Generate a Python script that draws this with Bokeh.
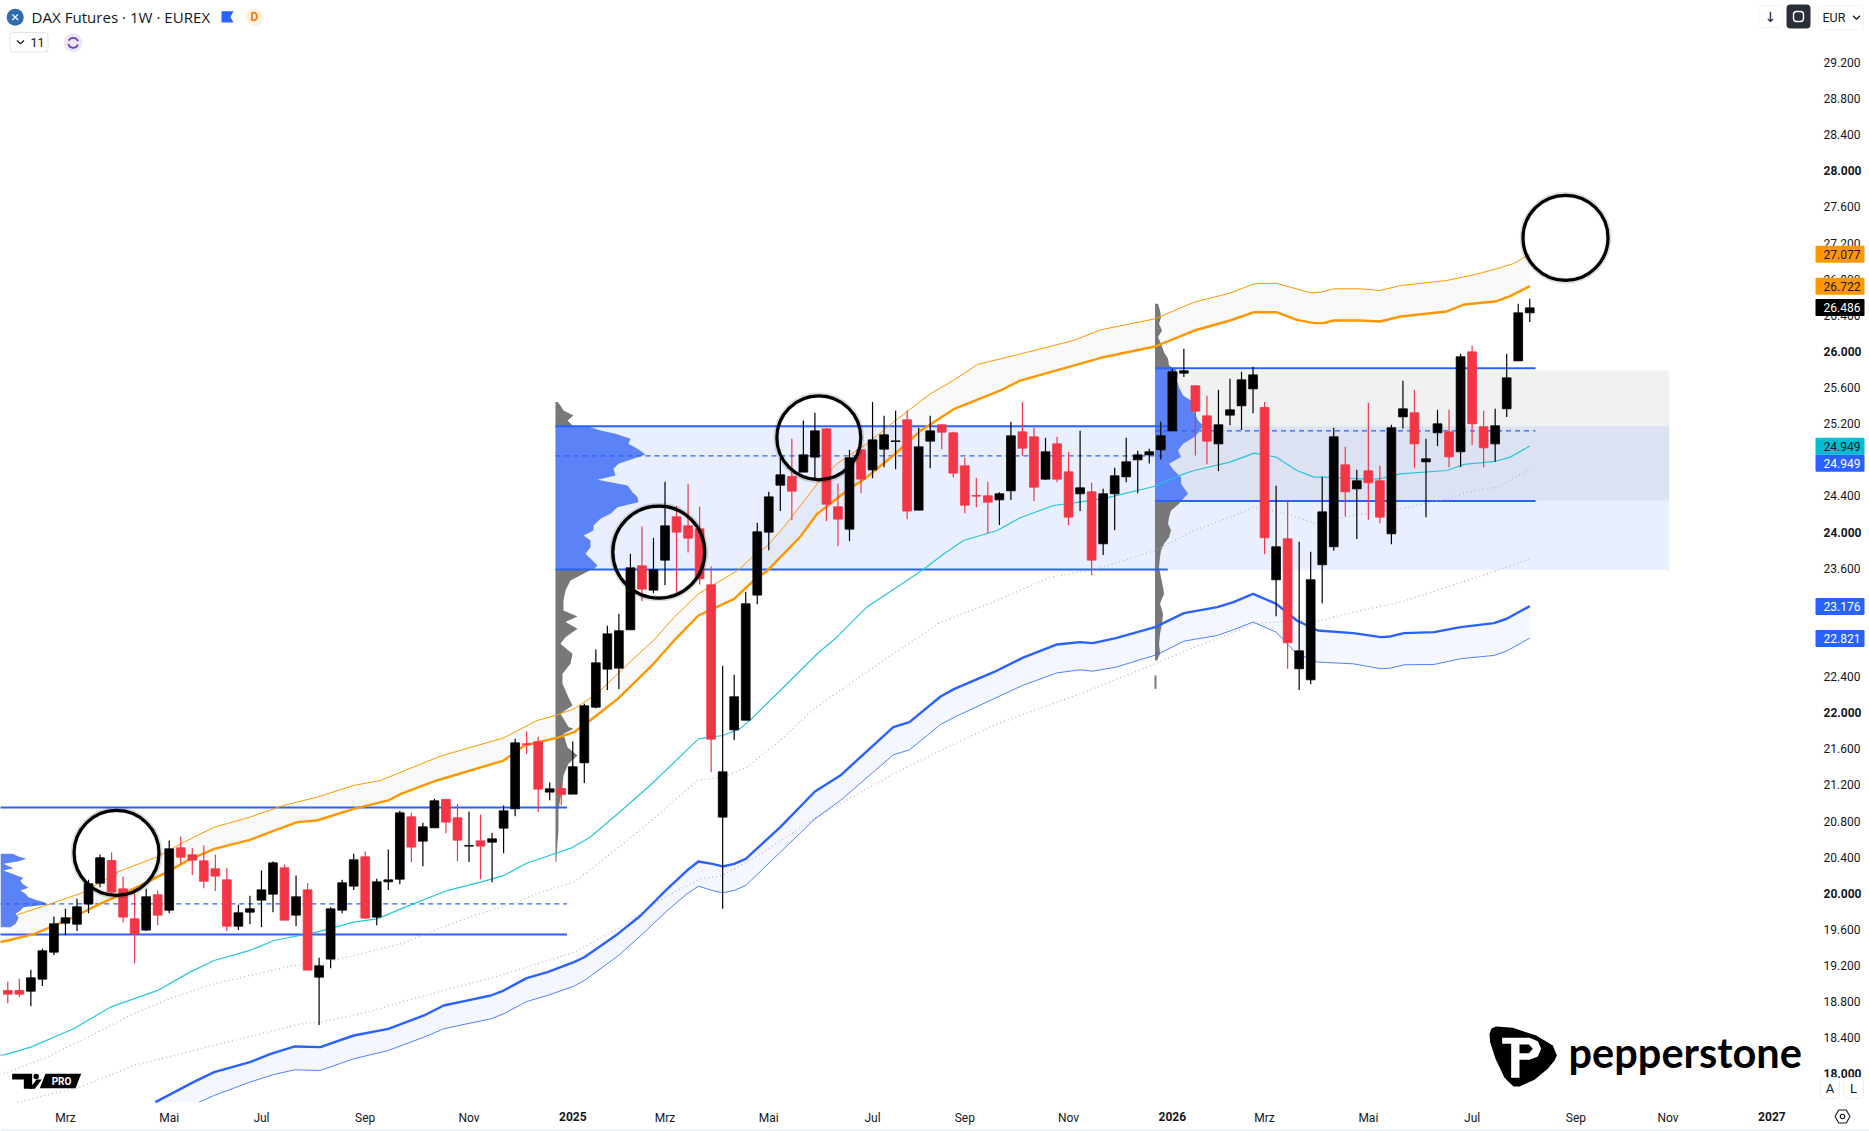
from bokeh.plotting import figure
from bokeh.models import Label, FixedTicker, Range1d, LinearAxis
from bokeh.embed import file_html
from bokeh.resources import INLINE

# ---------- weekly DAX futures candles ----------
opens = [18924,18924,18916,19049,19348,19669,19658,19880,20112,20363,
 20049,19717,19592,19983,19813,20503,20426,20359,20271,20149,
 19636,19791,19924,19990,20282,19758,20038,19071,19271,19813,
 20079,20404,19736,20127,20156,20847,20577,20725,21039,20836,
 20522,20581,20566,20721,20936,21655,21677,21120,21161,21098,
 21445,22061,22482,22493,22918,23626,23357,23689,24169,24069,
 24036,23416,20843,21810,21917,23302,23999,24519,24615,24664,
 24830,25143,24280,24032,24911,24689,24918,25003,25243,24243,
 25007,25188,25099,24734,24405,24402,24357,24457,25110,25055,
 24586,24977,24667,24424,24446,23870,24424,24612,24800,24855,
 24911,25121,25760,25620,25287,24977,25295,25398,25586,25380,
 23472,23925,22486,22364,23638,23837,24745,24479,24678,24568,
 23981,25276,25321,24778,25099,25110,24889,25996,25166,24977,
 25365,25896,26428]
closes = [18883,18883,19064,19363,19662,19728,19850,20105,20393,20013,
 19736,19551,19961,19758,20492,20400,20367,20134,20190,19636,
 19784,19828,20038,20337,19702,19961,19149,19197,19828,20116,
 20371,19725,20127,20149,20891,20511,20736,21024,20788,20588,
 20529,20522,20603,20913,21666,21648,21153,21157,21094,21401,
 22076,22552,22873,22907,23604,23368,23582,24069,23999,23933,
 23482,21707,21345,22176,23206,24003,24390,24634,24453,24855,
 25121,24309,24143,24822,24586,25021,25077,25010,24232,24944,
 25121,25106,24653,24298,24398,24331,24424,25066,24929,24497,
 24889,24586,24165,24490,23689,24424,24623,24778,24855,24889,
 25066,25775,25786,25339,25007,25188,25354,25686,25741,23937,
 23837,22774,22685,23472,24224,25055,24446,24568,24546,24165,
 25155,25365,24977,24811,25199,24833,25941,25199,24933,25177,
 25708,26428,26483]
highs = [19023,19053,19153,19385,19743,19828,19939,20149,20430,20452,
 20186,19994,20049,20031,20585,20629,20503,20529,20430,20282,
 19872,19972,20252,20352,20319,20197,20112,19285,19846,20149,
 20437,20463,20160,20485,20913,20891,20780,21046,21039,20991,
 20906,20873,20670,20972,21711,21792,21733,21227,21227,21681,
 22098,22700,22962,23095,23759,24062,23936,24557,24291,24534,
 24280,23619,22519,22419,23338,24102,24446,24822,25033,25236,
 25320,25154,24534,24911,24911,25442,25287,25343,25346,25154,
 25287,25199,25110,24822,24601,24557,24442,25221,25442,25154,
 25044,25055,24889,25121,24545,24479,24712,25044,24900,24922,
 25221,25808,26029,25623,25509,25575,25697,25775,25830,25442,
 24512,24357,23892,23782,24612,25155,24944,24690,25431,24734,
 25188,25675,25575,25033,25354,25354,25974,26063,25343,25365,
 25974,26528,26583]
lows = [18783,18850,18750,18972,19315,19536,19581,19780,20068,19976,
 19680,19226,19581,19647,19780,20319,20201,20057,20024,19581,
 19592,19658,19625,19791,19702,19636,19149,18540,19171,19780,
 20035,19714,19647,20035,20101,20345,20300,20725,20666,20356,
 20345,20156,20123,20444,20854,21541,20899,21031,20976,21098,
 21220,22050,22250,22261,22918,23235,23324,23412,23316,23774,
 23420,21341,19828,21696,21917,23202,23800,24232,24132,24664,
 24579,24121,23844,23899,24431,24597,24719,24697,24143,24243,
 24708,24918,24608,24209,24276,23988,24077,24354,24844,24342,
 24575,24552,24077,24232,23523,23745,24021,24552,24431,24759,
 24804,25121,25716,24848,24752,24675,25184,25129,25317,23756,
 23069,22486,22250,22316,23213,23793,24173,23922,24136,24099,
 23866,25147,24708,24165,24952,24719,24719,24963,24719,24778,
 25273,25896,26325]

# ---------- bands (week index, price) ----------
upper_thin_w = [0.8,3.7,6.6,9.5,13,15,17.9,21,23.9,26.8,30,32.3,37.5,43,45.9,47.5,49.1,51.1,54.1,56,57.8,59.9,63.3,64.4,65.9,67.3,70.2,71.9,74.5,76.8,80,82,84.1,88.3,92.4,94.8,99.5,102.9,106,108.1,110,113,113.9,115,117.3,119,120.8,124.8,127.6,129.5,130.6,132]
upper_thin_p = [19762,19883,20012,20234,20407,20548,20732,20843,20972,21064,21194,21249,21518,21721,21913,21969,22042,22209,22578,22800,23058,23316,23575,23704,23851,24055,24534,24756,24977,25217,25531,25678,25856,25988,26121,26240,26362,26546,26646,26749,26756,26649,26657,26694,26694,26675,26731,26786,26863,26930,26974,27077]
upper_thick_w = [-0.7,0,2.3,5.1,8,10.9,13.8,15.6,17.9,21,23.1,25.1,26.8,30,33,34.1,37.2,43,44.8,47.6,49.1,50.5,52.9,56,57.8,59.9,63,64.7,65.9,68.7,70.2,72.8,74.5,76.8,79.2,82.1,86.1,87.8,94.8,99.5,102.9,106,108.1,110,111.8,113.3,114.1,115,117.3,119,120.8,124.8,126.3,129,130.3,132]
upper_thick_p = [19460,19477,19551,19699,19883,20049,20234,20363,20492,20592,20695,20788,20806,20935,21028,21101,21249,21470,21636,21721,21784,21913,22153,22541,22800,23076,23261,23464,23575,23944,24202,24460,24608,24848,25125,25365,25568,25678,25930,26055,26232,26343,26435,26435,26350,26314,26314,26343,26343,26332,26387,26443,26520,26553,26613,26723]
teal_w = [-0.7,0,2,5.7,8.9,10.9,13,15.8,17.9,21,23.1,26.8,30,32,34.1,37,38.1,41,43,45,48.9,50.5,52.9,56,59.9,62,63.5,64.4,67,70.2,71.9,74.5,77.1,79.4,81.2,82.9,85.8,87.8,90.7,92.5,95.3,99.4,101.7,102.9,106,108.1,110,111.8,113.3,114.1,117.3,119,120.8,124.8,126.3,129,130.3,132]
teal_p = [18200,18222,18296,18499,18739,18831,18924,19127,19256,19367,19477,19570,19680,19717,19827,19975,20030,20123,20196,20333,20503,20621,20880,21230,21710,21747,21821,21921,22246,22652,22836,23169,23390,23586,23759,23907,24017,24158,24294,24324,24379,24505,24630,24682,24774,24874,24830,24682,24608,24608,24590,24590,24645,24682,24749,24782,24830,24952]
dot_hi_w = [-0.7,0,3.4,7.5,10.9,14.4,17.9,21,24.8,27.1,30,34.1,37,40.4,44.2,46.2,49.1,50.8,53.7,56,59.8,62,64.1,67,69.9,76.8,80.9,85.8,90.4,94.2,99.5,102.9,106,108.1,111,113.3,116.7,120.8,124.8,126.6,129.2,132]
dot_hi_p = [17990,18019,18186,18444,18665,18850,18998,19090,19200,19219,19311,19440,19587,19754,19901,20012,20123,20289,20584,20824,21249,21286,21397,21692,22042,22651,23002,23242,23501,23582,23796,24018,24165,24276,24202,24099,24184,24258,24368,24442,24498,24701]
dot_lo_w = [0.8,6.3,10.9,17.9,25.4,27.1,31.2,34.1,37.8,42.2,45,49.1,52.9,57.2,60.1,62,65.3,69.9,76.8,80.9,85.8,93,99.5,102.9,106,108.1,110.7,113.6,116.7,120.8,124.8,129.2,132]
dot_lo_p = [17687,17853,18093,18315,18555,18573,18684,18794,18923,19071,19181,19347,19606,19975,20160,20197,20437,20824,21323,21581,21876,22208,22541,22726,22874,22984,23014,23014,23114,23224,23390,23575,23704]
lower_thick_w = [12.8,16.1,17.9,21,22.8,24.9,27.1,30,33,36.1,37.8,39.8,41.9,43,45,46.8,49.1,50,52.9,54.9,57.2,58.9,59.9,61.1,62,63,64,67,70,72.2,76.8,78.2,80.9,82.1,85.5,88,91,93,94.1,96.1,99.5,102,104.9,106.3,108,110,111.8,113.6,116.7,119.1,119.9,121.1,123.7,126,128.9,130,132]
lower_thick_p = [17687,17909,18019,18130,18222,18304,18296,18425,18499,18647,18757,18812,18868,18923,19060,19126,19237,19292,19550,19754,20049,20252,20352,20326,20297,20326,20382,20732,21127,21304,21839,21895,22179,22264,22448,22607,22755,22781,22770,22825,22948,23102,23169,23224,23316,23206,23021,22910,22881,22837,22844,22881,22892,22947,22992,23040,23180]
lower_thin_w = [16.6,17.9,21,23.1,24.9,27.1,30,33,36.1,37.8,39.8,41.9,43,45,46.8,49.1,50,52.9,54.9,57.2,58.9,59.9,61.1,62,63,64,67,70,72.2,76.8,78.2,80.9,82.1,85.5,88,91,93,94.1,96.1,99.7,102,104.9,106.3,108,110,111.8,113.6,116.7,119.1,119.9,121.1,123.7,126,128.9,130,132]
lower_thin_p = [17687,17761,17909,17994,18045,18038,18167,18259,18407,18499,18554,18609,18665,18801,18868,18971,19034,19303,19532,19809,19993,20079,20031,20005,20031,20086,20455,20824,21027,21533,21588,21869,21950,22153,22301,22441,22474,22460,22504,22644,22792,22855,22918,23003,22892,22652,22560,22541,22486,22493,22530,22534,22597,22634,22682,22826]

# ---------- volume profiles ----------
vp1_prices = [20437,20407,20382,20352,20326,20278,20252,20168,20142,20105,20061,20031,19994,19957,19928,19902,19876,19846,19810,19773,19736,19699,19662,19625]
vp1_vol = [12,18,26,17,3,13,3,23,20,22,28,20,25,28,35,43,47,23,20,15,18,17,15,10]
vp2_top_prices = [25439,25402,25346,25291,25236,25180,25172]
vp2_top_vol = [2,5,8,18,12,17,25]
vp2_va_prices = [25172,25125,25088,25033,24977,24922,24859,24811,24756,24700,24627,24579,24516,24442,24387,24331,24276,24202,24147,24073,24018,23962,23907,23833,23759,23685,23630,23586]
vp2_va_vol = [32,45,60,75,73,82,90,78,63,58,60,42,72,77,82,83,62,55,45,38,38,28,35,35,30,37,42,38]
vp2_low_prices = [23586,23538,23464,23353,23242,23132,23065,23003,22929,22836,22763,22652,22541,22430,22320,22172,22080,21987,21840,21821,21766,21618,21526,21433,21304,21175,21064,20917,20695,20566,20345]
vp2_low_vol = [36,28,15,10,8,8,22,10,22,10,5,17,15,7,7,13,17,5,13,18,8,12,22,13,8,7,5,3,3,2,1]
vp3_top_prices = [26528,26454,26380,26306,26232,26159,26085,25992,25919,25845,25815]
vp3_top_vol = [3,5,6,4,7,3,6,9,13,14,18]
vp3_va_prices = [25815,25753,25679,25605,25513,25457,25383,25310,25236,25180,25107,25051,24977,24904,24830,24756,24682,24608,24534,24424,24343]
vp3_va_vol = [20,23,22,24,28,36,37,40,43,48,44,39,28,23,26,14,19,26,26,33,26]
vp3_low_prices = [24343,24313,24239,24165,24092,24018,23944,23870,23796,23723,23612,23501,23390,23316,23206,23095,22984,22874,22763,22652,22578]
vp3_low_vol = [26,24,16,14,13,16,14,9,6,5,4,6,8,9,5,8,7,5,4,5,2]

# value-area ranges: [from week, to week, high, poc, low]
range1 = [-1, 48.5, 20950, 19883, 19544]
range2 = [47.5, 100.6, 25172, 24844, 23586]
range3 = [99.5, 132.5, 25815, 25121, 24343]
zone_blue = [47.5, 144.1, 25173, 23578]
zone_grey = [99.5, 144.1, 25789, 24350]

# highlight rings: week, price, diameter
ring_weeks = [9.43, 56.46, 70.34, 135.1]
ring_prices = [20448, 23778, 25044, 27259]
ring_sizes = [85, 92, 84, 85]

# axis labels
price_ticks = list(range(18000, 29600, 400))
date_ticks = [5, 14, 22, 31, 40, 49, 57, 66, 75, 83, 92, 101, 109, 118, 127, 136, 144, 153]
date_labels = ["Mrz", "Mai", "Jul", "Sep", "Nov", "2025", "Mrz", "Mai", "Jul", "Sep", "Nov", "2026", "Mrz", "Mai", "Jul", "Sep", "Nov", "2027"]

# ---------- geometry of the pane: page pixels <-> week / price ----------
def X(px):
    return (px - 7.3) / 11.53
def Y(py):
    return 29200 - (py - 62) * 11.074
BAR = 1 / 11.53          # a volume unit is one pixel wide
PXP = 11.074             # price units per pixel

FONT = "Roboto"
INK = "#131722"
BLUE = "#2962ff"
RED = "#f23645"
ORANGE = "#ff9800"
TEAL = "#26c6da"
EDGE = "#e8eaf0"

p = figure(width=1869, height=1131, output_backend="svg", toolbar_location=None,
           x_range=Range1d(X(0), X(1869)), y_range=Range1d(Y(1131), Y(0)),
           x_axis_location=None, y_axis_location=None,
           min_border_left=0, min_border_top=0, min_border_right=0, min_border_bottom=0,
           outline_line_color=None, background_fill_color="white", border_fill_color="white")
p.grid.visible = False

# axes, pinned at the pane edges
ya = LinearAxis(ticker=FixedTicker(ticks=price_ticks), fixed_location=X(1815))
ya.major_label_overrides = {t: ("" if t % 2000 == 0 else f"{t//1000}.{t%1000:03d}") for t in price_ticks}
ya.axis_line_color = None; ya.major_tick_line_color = None; ya.minor_tick_line_color = None
ya.major_tick_out = 0; ya.major_tick_in = 0
ya.major_label_standoff = 8
ya.major_label_text_font = FONT; ya.major_label_text_font_size = "12px"; ya.major_label_text_color = INK
p.add_layout(ya, "right")

xa = LinearAxis(ticker=FixedTicker(ticks=date_ticks), fixed_location=Y(1102))
xa.major_label_overrides = {t: ("" if l.isdigit() else l) for t, l in zip(date_ticks, date_labels)}
xa.axis_line_color = None; xa.major_tick_line_color = None; xa.minor_tick_line_color = None
xa.major_tick_out = 0; xa.major_tick_in = 0
xa.major_label_standoff = 8
xa.major_label_text_font = FONT; xa.major_label_text_font_size = "12px"; xa.major_label_text_color = INK
p.add_layout(xa, "below")

# zones
p.quad(left=[zone_blue[0]], right=[zone_blue[1]], top=[zone_blue[2]], bottom=[zone_blue[3]],
       fill_color=BLUE, fill_alpha=0.1, line_color=None)
p.quad(left=[zone_grey[0]], right=[zone_grey[1]], top=[zone_grey[2]], bottom=[zone_grey[3]],
       fill_color="#787b86", fill_alpha=0.11, line_color=None)

# volume profiles
def profile(anchor, prices, vols, color):
    p.harea(y=prices, x1=[anchor] * len(prices), x2=[anchor + v * BAR for v in vols], fill_color=color)

VA = "#5b82f7"; GREY = "#787878"
profile(X(0), vp1_prices, vp1_vol, VA)
a2 = range2[0]; a3 = range3[0]
profile(a2, vp2_top_prices, vp2_top_vol, GREY)
profile(a2, vp2_va_prices, vp2_va_vol, VA)
profile(a2, vp2_low_prices, vp2_low_vol, GREY)
profile(a3, vp3_top_prices, vp3_top_vol, GREY)
profile(a3, vp3_va_prices, vp3_va_vol, VA)
profile(a3, vp3_low_prices, vp3_low_vol, GREY)
p.line([a3 + 0.04, a3 + 0.04], [22412, 22264], line_color=GREY, line_width=2)

# value-area lines
for r in (range1, range2, range3):
    p.line([r[0], r[1]], [r[2], r[2]], line_color=BLUE, line_width=2)
    p.line([r[0], r[1]], [r[4], r[4]], line_color=BLUE, line_width=2)
    p.line([r[0], r[1]], [r[3], r[3]], line_color=BLUE, line_width=1.1, line_dash="5 4")

# bands
p.patch(upper_thin_w + upper_thick_w[::-1], upper_thin_p + upper_thick_p[::-1],
        fill_color="#808080", fill_alpha=0.05, line_color=None)
p.patch(lower_thick_w + lower_thin_w[::-1], lower_thick_p + lower_thin_p[::-1],
        fill_color=BLUE, fill_alpha=0.05, line_color=None)
p.line(dot_hi_w, dot_hi_p, line_color="#b2b5be", line_width=1.2, line_dash="1 3")
p.line(dot_lo_w, dot_lo_p, line_color="#b2b5be", line_width=1.2, line_dash="1 3")
p.line(teal_w, teal_p, line_color=TEAL, line_width=1.2)
p.line(upper_thin_w, upper_thin_p, line_color=ORANGE, line_width=1)
p.line(upper_thick_w, upper_thick_p, line_color=ORANGE, line_width=2.4)
p.line(lower_thin_w, lower_thin_p, line_color=BLUE, line_width=1, line_alpha=0.8)
p.line(lower_thick_w, lower_thick_p, line_color=BLUE, line_width=2.4)

# candles
weeks = list(range(len(opens)))
colors = ["#000000" if c >= o else RED for o, c in zip(opens, closes)]
p.segment(weeks, highs, weeks, lows, line_color=colors, line_width=1.2)
p.vbar(x=weeks, width=0.76, top=[max(o, c) for o, c in zip(opens, closes)],
       bottom=[min(o, c) for o, c in zip(opens, closes)], fill_color=colors, line_color=colors, line_width=0.8)

# rings
p.scatter(ring_weeks, ring_prices, size=[s + 1 for s in ring_sizes], marker="circle", fill_color=None,
          line_color="#000000", line_alpha=0.14, line_width=5.5)
p.scatter(ring_weeks, ring_prices, size=ring_sizes, marker="circle", fill_color=None,
          line_color="#000000", line_width=3.2)

# ---------- page furniture ----------
def lab(text, px, py, size="12px", color=INK, align="left", style="normal", font=FONT, **kw):
    l = Label(x=X(px), y=Y(py), text=text, text_font=font, text_font_size=size, text_color=color,
              text_align=align, text_baseline="middle", text_font_style=style, **kw)
    p.add_layout(l)
    return l

def box(x0, x1, y0, y1, fill="#ffffff", line=EDGE, radius=3, width=1, **kw):
    p.quad(left=[X(x0)], right=[X(x1)], top=[Y(y0)], bottom=[Y(y1)], fill_color=fill,
           line_color=line, line_width=width, border_radius=radius, **kw)

def chevron(cx, cy):
    p.line([X(cx - 3.5), X(cx), X(cx + 3.5)], [Y(cy - 1.7), Y(cy + 1.7), Y(cy - 1.7)], line_color=INK, line_width=1.3)

# bold price and year labels
for t in price_ticks:
    if t % 2000 == 0:
        l = Label(x=X(1823), y=t, text=f"{t//1000}.{t%1000:03d}", text_font=FONT, text_font_size="12px",
                  text_color=INK, text_align="left", text_baseline="middle", text_font_style="bold")
        p.add_layout(l)
for t, l in zip(date_ticks, date_labels):
    if l.isdigit():
        p.add_layout(Label(x=t, y=Y(1116), text=l, text_font=FONT, text_font_size="12px", text_color=INK,
                           text_align="center", text_baseline="middle", text_font_style="bold"))

# price tags (drawn above the axis labels)
def tag(text, price, bg, fg, off=0):
    mid = price - off * PXP
    p.quad(left=[X(1815)], right=[X(1864)], top=[mid + 8.5 * PXP], bottom=[mid - 8.5 * PXP],
           fill_color=bg, line_color=None, border_radius=1, level="overlay")
    p.add_layout(Label(x=X(1823), y=mid, text=text, text_font=FONT, text_font_size="12px", text_color=fg,
                       text_align="left", text_baseline="middle", level="overlay"))
tag("27.077", 27077, ORANGE, INK)
tag("26.722", 26722, ORANGE, INK)
tag("26.486", 26486, "#000000", "#ffffff")
tag("24.949", 24949, "#00bcd4", INK)
tag("24.949", 24949, BLUE, "#ffffff", off=17)
tag("23.176", 23176, BLUE, "#ffffff")
tag("22.821", 22821, BLUE, "#ffffff")

# header
p.scatter([X(14.7)], [Y(16.7)], size=17, marker="circle", fill_color="#2f6cae", line_color=None)
p.scatter([X(14.7)], [Y(16.7)], size=8, marker="x", line_color="#ffffff", line_width=1.2)
lab("DAX Futures · 1W · EUREX", 31, 16.7, size="15.1px", font="Open Sans")
p.patch([X(v) for v in (221, 233, 230, 233, 221)], [Y(v) for v in (10.7, 10.7, 16.5, 22, 22)],
        fill_color=BLUE, line_color=None)
p.scatter([X(254)], [Y(16.7)], size=18, marker="circle", fill_color="#fff3e0", line_color=None)
lab("D", 254, 16.7, size="12px", color="#f57c00", align="center", style="bold")
box(9.5, 47.5, 32, 51.5, line="#e0e3eb")
chevron(20, 41.7)
lab("11", 30, 42, size="12.5px")
p.scatter([X(72.7)], [Y(42.3)], size=19, marker="circle", fill_color="#ede7f6", line_color=None)
p.arc([X(72.7)], [Y(42.3)], radius=5, radius_units="screen", start_angle=0.3, end_angle=2.7,
      line_color="#6f3fd6", line_width=1.8)
p.arc([X(72.7)], [Y(42.3)], radius=5, radius_units="screen", start_angle=3.4, end_angle=5.9,
      line_color="#6f3fd6", line_width=1.8)

# top-right controls
box(1758, 1782, 5, 27, line="#f0f3fa")
lab("↓", 1770, 16.5, size="14px", align="center", font="DejaVu Sans")
box(1786, 1810, 4, 28, fill="#2a2e39", line=None, radius=4)
box(1793, 1803, 11, 21, fill=None, line="#ffffff", width=1.4)
box(1818, 1863, 5, 29, line="#f0f3fa")
lab("EUR", 1822, 16.8, size="12.5px")
chevron(1856, 17)

# logos
def shape(xs, ys, ox, oy, color):
    p.patch([X(ox + v / 3) for v in xs], [Y(oy + v / 3) for v in ys], fill_color=color, line_color=None)
shape([60,66,80,130,200,250,262,255,235,195,150,132,105,78,62],
      [100,84,78,82,105,135,165,180,205,238,258,258,232,175,125], 1469, 1000, "#000000")
shape([98,180,205,215,205,180,150,150,125,125,98], [112,112,122,145,168,178,178,232,232,130,130], 1469, 1000, "#ffffff")
shape([150,178,190,178,150], [132,132,145,158,158], 1469, 1000, "#000000")
lab("pepperstone", 1568, 1051, size="41.5px", color="#000000", style="bold", font="Lato")

shape([35,95,95,70,70,35], [880,880,925,925,897,897], 0, 780, "#000000")
p.scatter([X(107 / 3)], [Y(780 + 888 / 3)], size=5.5, marker="circle", fill_color="#000000", line_color=None)
shape([108,124,103,87], [897,897,925,925], 0, 780, "#000000")
shape([135,242,225,118], [880,880,923,923], 0, 780, "#000000")
lab("PRO", 61, 1081, size="10px", color="#ffffff", align="center", style="bold")

# scale buttons and footer
box(1820, 1839, 1077, 1098, line="#eceef2", level="overlay")
box(1843, 1863, 1077, 1098, line="#eceef2", level="overlay")
lab("A", 1829.5, 1087.5, size="13px", align="center", level="overlay")
lab("L", 1853, 1087.5, size="13px", align="center", level="overlay")
p.scatter([X(1842)], [Y(1116)], size=15, marker="hex", fill_color=None, line_color=INK, line_width=1.1)
p.scatter([X(1842)], [Y(1116)], size=4.5, marker="circle", fill_color=None, line_color=INK, line_width=1.1)
p.quad(left=[X(0)], right=[X(1869)], top=[Y(1129)], bottom=[Y(1131)], fill_color="#eceff4", line_color=None)

open("out.html", "w").write(file_html(p, INLINE))
